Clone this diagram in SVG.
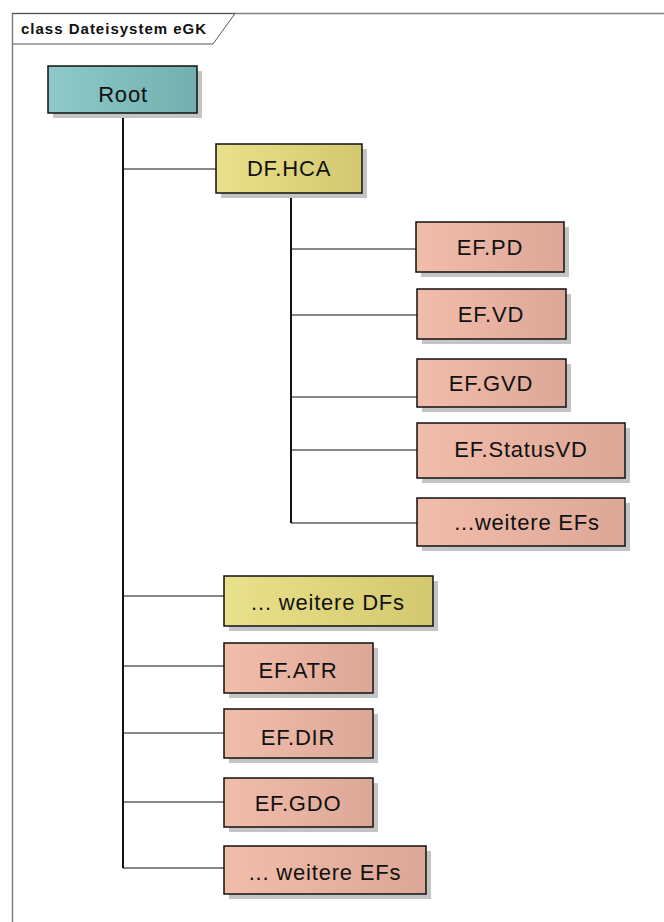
<svg xmlns="http://www.w3.org/2000/svg" width="664" height="922" viewBox="0 0 664 922">
<defs>
<linearGradient id="gRoot" x1="0" y1="0" x2="1" y2="0"><stop offset="0" stop-color="#8fcaca"/><stop offset="1" stop-color="#73afaf"/></linearGradient>
<linearGradient id="gDF" x1="0" y1="0" x2="1" y2="0"><stop offset="0" stop-color="#e9e18b"/><stop offset="1" stop-color="#d3c86f"/></linearGradient>
<linearGradient id="gEF" x1="0" y1="0" x2="1" y2="0"><stop offset="0" stop-color="#f2bdab"/><stop offset="1" stop-color="#dca796"/></linearGradient>
</defs>
<style>
.sh{fill:#c4c4c4}
.box{stroke:#111;stroke-width:1.5}
.root{fill:url(#gRoot)}
.df{fill:url(#gDF)}
.ef{fill:url(#gEF)}
.t{font-family:"Liberation Sans",Arial,sans-serif;font-size:22px;letter-spacing:0.8px;fill:#111;text-anchor:middle;dominant-baseline:central}
.h{stroke:#111;stroke-width:1;fill:none}
.v{stroke:#111;stroke-width:2;fill:none}
</style>
<rect width="664" height="922" fill="#fff"/>
<g id="frame">
<path d="M12.5,922 V13.5 H664" fill="none" stroke="#808080" stroke-width="1.5"/>
<path d="M12.5,13.5 H235 L213,44 H12.5" fill="none" stroke="#555" stroke-width="1"/>
<text x="21" y="34" font-family="Liberation Sans,Arial,sans-serif" font-size="15" font-weight="bold" letter-spacing="1" fill="#111">class Dateisystem eGK</text>
</g>
<g id="connectors">
<path class="v" d="M123,113 V868"/>
<path class="h" d="M123,169 H216 M123,596 H224 M123,666 H224 M123,733 H224 M123,802 H224 M123,868 H224"/>
<path class="v" d="M291,193 V523"/>
<path class="h" d="M291,249 H416 M291,315 H417 M291,397 H417 M291,450 H417 M291,523 H417"/>
</g>
<g id="root"><rect class="sh" x="53" y="71" width="149" height="47"/><rect class="box root" x="48" y="66" width="149" height="47"/><text class="t" x="123" y="94">Root</text></g>
<g id="df-hca"><rect class="sh" x="221" y="149" width="146" height="49"/><rect class="box df" x="216" y="144" width="146" height="49"/><text class="t" x="289" y="168">DF.HCA</text></g>
<g id="ef-pd"><rect class="sh" x="421" y="227" width="148" height="50"/><rect class="box ef" x="416" y="222" width="148" height="50"/><text class="t" x="490" y="247">EF.PD</text></g>
<g id="ef-vd"><rect class="sh" x="422" y="294" width="149" height="50"/><rect class="box ef" x="417" y="289" width="149" height="50"/><text class="t" x="491" y="314">EF.VD</text></g>
<g id="ef-gvd"><rect class="sh" x="422" y="364" width="149" height="48"/><rect class="box ef" x="417" y="359" width="149" height="48"/><text class="t" x="491" y="383">EF.GVD</text></g>
<g id="ef-statusvd"><rect class="sh" x="422" y="428" width="208" height="55"/><rect class="box ef" x="417" y="423" width="208" height="55"/><text class="t" x="521" y="449">EF.StatusVD</text></g>
<g id="ef-weitere1"><rect class="sh" x="422" y="503" width="208" height="48"/><rect class="box ef" x="417" y="498" width="208" height="48"/><text class="t" x="527" y="522">...weitere EFs</text></g>
<g id="df-weitere"><rect class="sh" x="229" y="581" width="209" height="50"/><rect class="box df" x="224" y="576" width="209" height="50"/><text class="t" x="328" y="602">... weitere DFs</text></g>
<g id="ef-atr"><rect class="sh" x="229" y="648" width="149" height="50"/><rect class="box ef" x="224" y="643" width="149" height="50"/><text class="t" x="298" y="670">EF.ATR</text></g>
<g id="ef-dir"><rect class="sh" x="229" y="714" width="149" height="49"/><rect class="box ef" x="224" y="709" width="149" height="49"/><text class="t" x="298" y="737">EF.DIR</text></g>
<g id="ef-gdo"><rect class="sh" x="229" y="783" width="149" height="49"/><rect class="box ef" x="224" y="778" width="149" height="49"/><text class="t" x="298" y="803">EF.GDO</text></g>
<g id="ef-weitere2"><rect class="sh" x="229" y="851" width="202" height="48"/><rect class="box ef" x="224" y="846" width="202" height="48"/><text class="t" x="325" y="872">... weitere EFs</text></g>
</svg>
